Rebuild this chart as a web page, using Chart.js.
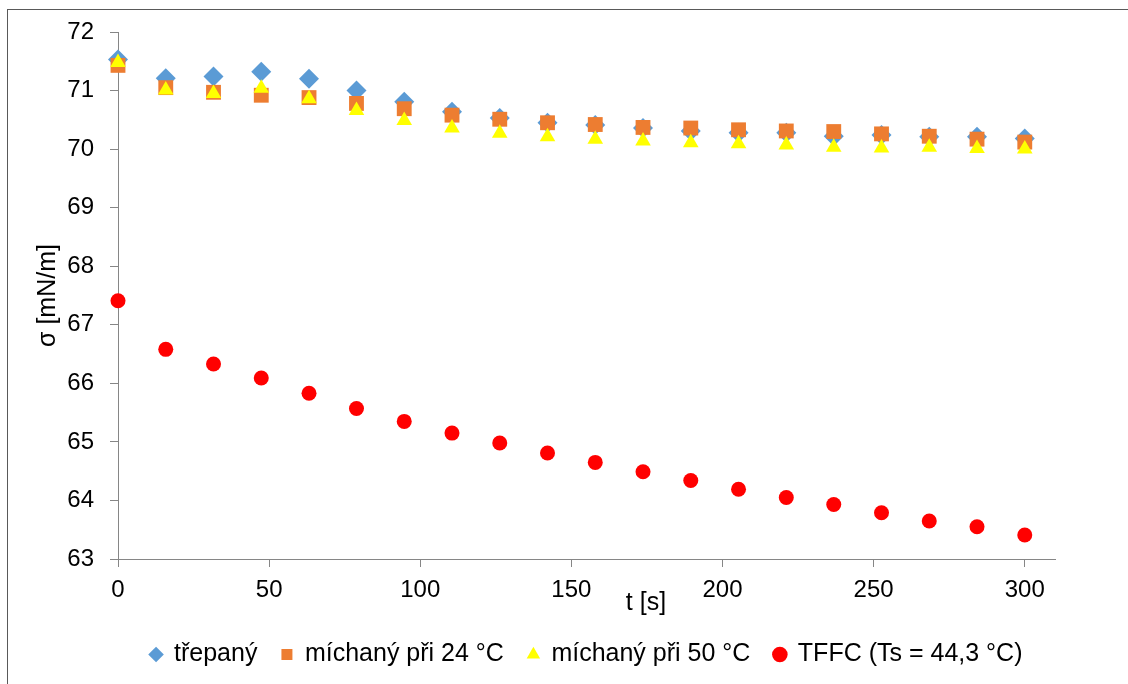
<!DOCTYPE html>
<html>
<head>
<meta charset="utf-8">
<script src="https://cdn.jsdelivr.net/npm/chart.js@4"></script>
<style>
  body { margin: 0; background: #fff; }
  #wrap { position: relative; width: 1128px; height: 684px; }
  #frame { position: absolute; left: 7px; top: 9px; right: -10px; bottom: -10px; border-left: 1px solid #595959; border-top: 1px solid #595959; pointer-events: none; }
</style>
</head>
<body>
<div id="wrap">
  <canvas id="graf" width="1128" height="684"></canvas>
  <div id="frame"></div>
</div>
<script>
// cas mereni [s]
const casy = [0, 15.8, 31.6, 47.4, 63.2, 78.9, 94.7, 110.5, 126.3, 142.1, 157.9, 173.7, 189.5, 205.3, 221.1, 236.8, 252.6, 268.4, 284.2, 300];
// povrchove napeti [mN/m]
const trepany = [71.53, 71.21, 71.24, 71.32, 71.20, 71.00, 70.81, 70.64, 70.53, 70.45, 70.41, 70.36, 70.31, 70.28, 70.28, 70.22, 70.24, 70.21, 70.21, 70.18];
const michany24 = [71.43, 71.05, 70.97, 70.92, 70.88, 70.78, 70.69, 70.58, 70.51, 70.45, 70.42, 70.37, 70.36, 70.33, 70.31, 70.30, 70.26, 70.22, 70.17, 70.12];
const michany50 = [71.48, 71.01, 70.95, 71.04, 70.86, 70.66, 70.49, 70.36, 70.27, 70.21, 70.17, 70.14, 70.11, 70.09, 70.07, 70.03, 70.02, 70.03, 70.01, 70.00];
const tffc = [67.41, 66.58, 66.33, 66.09, 65.83, 65.57, 65.35, 65.15, 64.98, 64.81, 64.65, 64.49, 64.34, 64.19, 64.05, 63.93, 63.79, 63.65, 63.55, 63.41];

const nazvy = ['třepaný', 'míchaný při 24 °C', 'míchaný při 50 °C', 'TFFC (Ts = 44,3 °C)'];
const xTicky = [0, 50, 100, 150, 200, 250, 300];

const body = (ys) => ys.map((y, i) => ({ x: casy[i], y: y }));

const rodina = '"Liberation Sans", Arial, sans-serif';
const pismoOsy = { family: rodina, size: 24 };
const pismo = { family: rodina, size: 25 };
const osa = '#868686';

// popisek osy x je v Excelu posunuty doprava
const popisekX = {
  id: 'popisekX',
  afterDraw(chart) {
    const { ctx, chartArea } = chart;
    ctx.save();
    ctx.font = '25px ' + rodina;
    ctx.fillStyle = '#000';
    ctx.textAlign = 'center';
    ctx.textBaseline = 'middle';
    ctx.fillText('t [s]', chartArea.left + 528, chartArea.bottom + 44);
    ctx.restore();
  }
};

// legenda je vystredena pod celym grafem, ne jen pod osou
const posunLegendy = {
  id: 'posunLegendy',
  afterLayout(chart) {
    chart.legend.left += 59;
    chart.legend.right += 59;
  }
};

new Chart(document.getElementById('graf'), {
  type: 'scatter',
  data: {
    datasets: [
      { label: nazvy[0], data: body(trepany), pointStyle: 'rectRot', pointRadius: 10, backgroundColor: '#5B9BD5', borderColor: '#5B9BD5', borderWidth: 0, order: 4 },
      { label: nazvy[1], data: body(michany24), pointStyle: 'rect', pointRadius: 10.5, backgroundColor: '#ED7D31', borderColor: '#ED7D31', borderWidth: 0, order: 3 },
      { label: nazvy[2], data: body(michany50), pointStyle: 'triangle', pointRadius: 9, backgroundColor: '#FFFF00', borderColor: '#FFFF00', borderWidth: 0, order: 2 },
      { label: nazvy[3], data: body(tffc), pointStyle: 'circle', pointRadius: 7.5, backgroundColor: '#FF0000', borderColor: '#FF0000', borderWidth: 0, order: 1 }
    ]
  },
  options: {
    responsive: false,
    animation: false,
    events: [],
    clip: false,
    layout: { padding: { left: 0, right: 73, top: 32, bottom: 7 } },
    scales: {
      x: {
        type: 'linear',
        min: 0,
        max: 310,
        afterBuildTicks: (s) => { s.ticks = xTicky.map(v => ({ value: v })); },
        afterFit: (s) => { s.height = 59; },
        border: { display: true, color: osa, width: 1 },
        grid: { display: true, drawOnChartArea: false, drawTicks: true, tickLength: 8, color: osa },
        ticks: { color: '#000', font: pismoOsy, padding: 9, maxRotation: 0 }
      },
      y: {
        min: 63,
        max: 72,
        ticks: { stepSize: 1, color: '#000', font: pismoOsy, padding: 16 },
        afterFit: (s) => { s.width = 118; },
        border: { display: true, color: osa, width: 1 },
        grid: { display: true, drawOnChartArea: false, drawTicks: true, tickLength: 8, color: osa },
        title: { display: true, text: 'σ [mN/m]', color: '#000', font: pismo, padding: { top: 33, bottom: 0 } }
      }
    },
    plugins: {
      legend: {
        position: 'bottom',
        labels: {
          usePointStyle: true,
          boxWidth: 11,
          boxHeight: 11,
          padding: 24,
          color: '#000',
          font: pismo,
          sort: (a, b) => a.datasetIndex - b.datasetIndex
        }
      },
      tooltip: { enabled: false }
    }
  },
  plugins: [popisekX, posunLegendy]
});
</script>
</body>
</html>
